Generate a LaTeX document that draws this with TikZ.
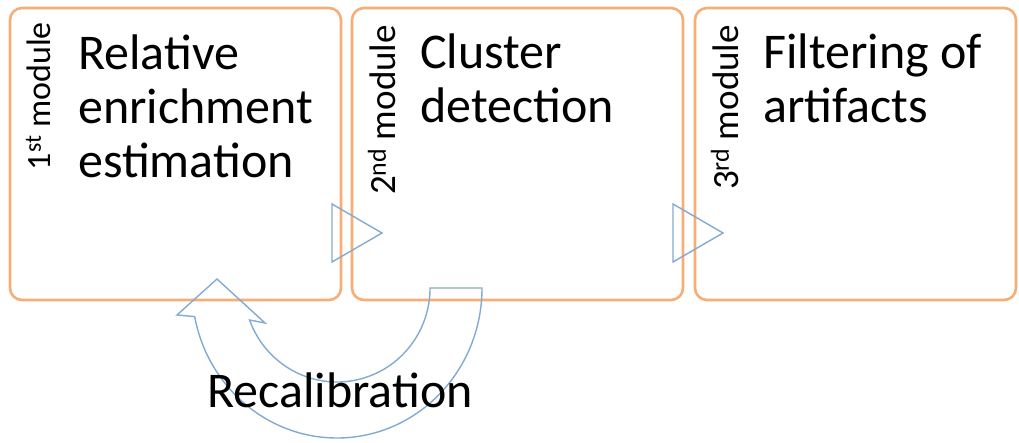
\documentclass[tikz,border=0pt]{standalone}
\usepackage{fontspec}
\setmainfont{Carlito}
\usepackage{tikz}
\usetikzlibrary{positioning}
\definecolor{boxorange}{RGB}{248,172,118}
\definecolor{flowblue}{RGB}{130,170,210}
\tikzstyle{box} = [rectangle,
			draw = boxorange,
			line width = 2.6pt,
			rounded corners = 12pt,
			inner sep = 0pt,
			outer sep = 0pt,
			minimum width = 331pt,
			minimum height = 292pt]
\tikzstyle{boxtext} = [anchor = base west,
			align = left,
			inner sep = 0pt,
			font = \fontsize{50}{54}\selectfont]
\tikzstyle{boxlabel} = [anchor = base east,
			rotate = 90,
			inner sep = 0pt,
			font = \fontsize{37}{40}\selectfont]
\tikzstyle{flow} = [draw = flowblue,
			line width = 1.4pt,
			line join = miter]

\begin{document}
\begin{tikzpicture}[x=1pt, y=-1pt]
	\useasboundingbox (0,0) rectangle (1019,443);
	\node [box] (first) at (175.5,154) {};
	\node [box, right=11pt of first] (second) {};
	\node [box, right=12pt of second, minimum width=321pt] (third) {};
	% base anchor sits on the last line
	\node [boxtext] (first-text) at ([xshift=68pt, yshift=-170pt]first.north west) {Relative\\enrichment\\estimation};
	\node [boxtext] (second-text) at ([xshift=68pt, yshift=-115pt]second.north west) {Cluster\\detection};
	\node [boxtext] (third-text) at ([xshift=68pt, yshift=-115pt]third.north west) {Filtering of\\artifacts};
	\node [boxlabel, font=\fontsize{34}{37}\selectfont] (first-label) at ([xshift=40pt, yshift=-14pt]first.north west) {1\textsuperscript{st} module};
	\node [boxlabel] (second-label) at ([xshift=43pt, yshift=-17pt]second.north west) {2\textsuperscript{nd} module};
	\node [boxlabel] (third-label) at ([xshift=43pt, yshift=-17pt]third.north west) {3\textsuperscript{rd} module};
	% forward steps
	\coordinate (step-a) at ([xshift=-9pt, yshift=-79pt]first.east);
	\coordinate (step-b) at ([xshift=-10pt, yshift=-79pt]second.east);
	\draw [flow] (step-a) ++(0,-29) -- ++(50,29) -- ++(-50,29) -- cycle;
	\draw [flow] (step-b) ++(0,-29) -- ++(50,29) -- ++(-50,29) -- cycle;
	% recalibration loop
	\coordinate (turn) at (337,288);
	\draw [flow] (turn) ++(145,0)
		arc [start angle=0, end angle=-169, x radius=145pt, y radius=150pt]
		-- (177,315) -- (217,279) -- (265,323) -- (249.6,320)
		arc [start angle=-160.1, end angle=0, x radius=93pt, y radius=94pt]
		-- cycle;
	\node [anchor=base west, inner sep=0pt, font=\fontsize{50}{54}\selectfont] (recal) at (207,407) {Recalibration};
\end{tikzpicture}
\end{document}
